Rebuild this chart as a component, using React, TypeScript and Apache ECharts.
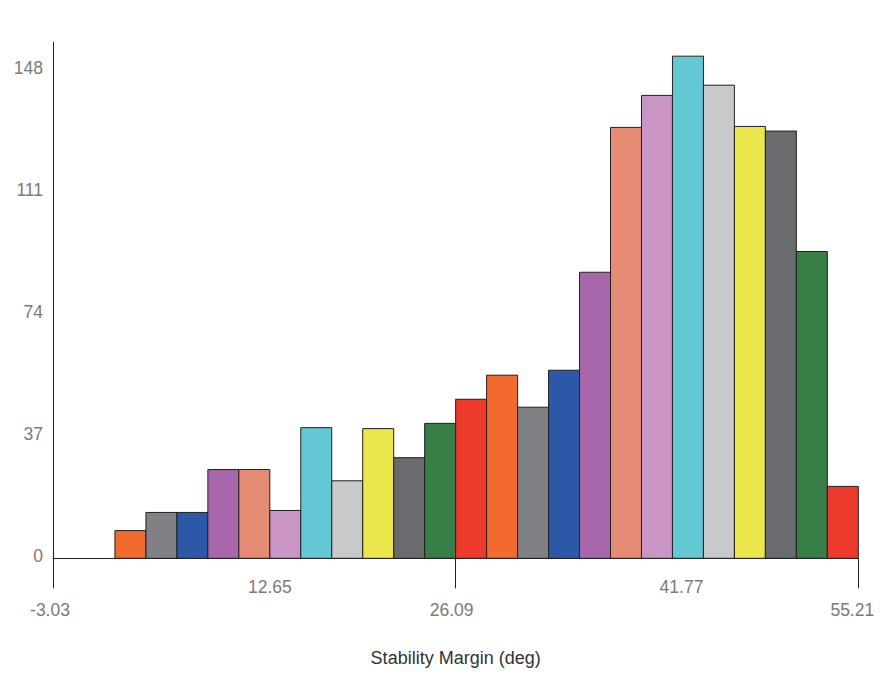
import React, { useEffect, useRef } from "react";
import * as echarts from "echarts";

// Histogram bins span the x-axis range evenly
const binRangeMin = -3.03;
const binRangeMax = 55.21;
const counts = [
  0, 0, 8.4, 13.9, 13.9, 26.9, 26.9, 14.5, 39.6, 23.5, 39.3, 30.5, 40.9,
  48.2, 55.5, 45.8, 57.0, 86.7, 130.6, 140.3, 152.2, 143.4, 130.9, 129.5, 93.0, 21.8,
];
const xTickValues = [-3.03, 26.09, 55.21];
const xLabelValuesLow = [-3.03, 26.09, 55.21];
const xLabelValuesHigh = [12.65, 41.77];
const yLabelValues = [0, 37, 74, 111, 148];
const xTitle = "Stability Margin (deg)";

const palette = [
  "#F26A2E", "#808184", "#2B59A8", "#A866AB", "#E68C74", "#C995C5",
  "#63C8D4", "#C8C9CA", "#EBE64B", "#6A6B6E", "#377F46", "#EE3A2B",
];

const FONT = "'Liberation Sans', Arial, sans-serif";

export default function App() {
  const ref = useRef<HTMLDivElement>(null);
  useEffect(() => {
    document.body.style.margin = "0";
    const chart = echarts.init(ref.current!, null, { renderer: "svg" });
    const binWidth = (binRangeMax - binRangeMin) / counts.length;
    const data: any[] = [];
    counts.forEach((c, i) => {
      if (c <= 0) return;
      const x0 = binRangeMin + i * binWidth;
      data.push({
        value: [x0, x0 + binWidth, c],
        itemStyle: { color: palette[(i - 2 + 12) % 12] },
      });
    });
    const shift: Record<string, number> = {
      "-3.03": -6,
      "26.09": -8,
      "55.21": -12,
      "12.65": 0,
      "41.77": 18,
    };
    const rich: any = {};
    Object.keys(shift).forEach((k, idx) => {
      const s = shift[k];
      const low = xLabelValuesLow.map((v) => v.toFixed(2)).includes(k);
      rich["l" + idx] = {
        fontFamily: FONT,
        fontSize: 17.5,
        color: "#7a7a7a",
        padding: [low ? 23 : 0, s < 0 ? -s : 0, 0, s > 0 ? s : 0],
      };
    });
    const keys = Object.keys(shift);
    chart.setOption({
      animation: false,
      grid: { left: 53, right: 36.7, top: 42.3, bottom: 125.7, containLabel: false },
      xAxis: {
        type: "value",
        min: binRangeMin,
        max: binRangeMax,
        name: xTitle,
        nameLocation: "middle",
        nameGap: 91,
        nameTextStyle: { fontFamily: FONT, fontSize: 18, color: "#333333" },
        axisLine: { show: true, onZero: false, lineStyle: { color: "#231f20", width: 1 } },
        axisTick: {
          show: true,
          length: 30,
          lineStyle: { color: "#231f20", width: 1 },
          customValues: xTickValues,
        },
        axisLabel: {
          margin: 20,
          customValues: [...xLabelValuesLow, ...xLabelValuesHigh],
          formatter: (v: number) => {
            const k = v.toFixed(2);
            const idx = keys.indexOf(k);
            return `{l${idx}|${k}}`;
          },
          rich,
        },
        splitLine: { show: false },
      },
      yAxis: {
        type: "value",
        min: 0,
        max: 156.4,
        axisLine: { show: true, onZero: false, lineStyle: { color: "#231f20", width: 1 } },
        axisTick: { show: false },
        axisLabel: {
          customValues: yLabelValues,
          margin: 10,
          formatter: (v: number) => `{y|${v}}`,
          rich: {
            y: {
              fontFamily: FONT,
              fontSize: 17.5,
              color: "#7a7a7a",
              padding: [0, 0, 5, 0],
            },
          },
        },
        splitLine: { show: false },
      },
      series: [
        {
          type: "custom",
          encode: { x: [0, 1], y: 2 },
          data,
          renderItem: (params: any, api: any) => {
            const p0 = api.coord([api.value(0), 0]);
            const p1 = api.coord([api.value(1), api.value(2)]);
            return {
              type: "rect",
              shape: {
                x: p0[0],
                y: p1[1],
                width: p1[0] - p0[0],
                height: p0[1] - p1[1],
              },
              style: {
                fill: api.visual("color"),
                stroke: "#231f20",
                lineWidth: 1,
              },
            };
          },
        },
      ],
    });
    return () => chart.dispose();
  }, []);
  return <div ref={ref} style={{ width: 895, height: 684 }} />;
}
